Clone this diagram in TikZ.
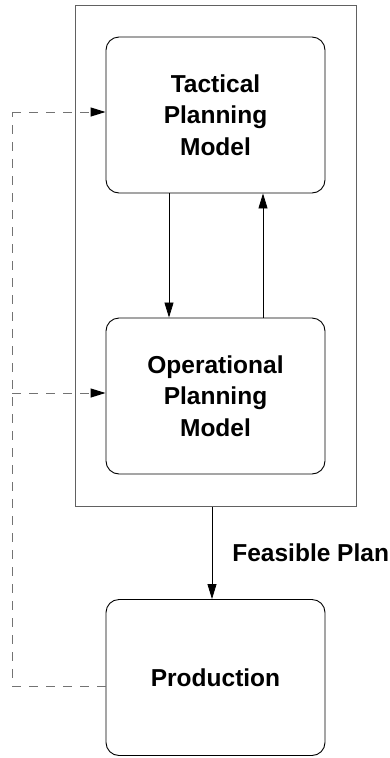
\documentclass[tikz,border=0pt]{standalone}
\usepackage{fontspec}
\setmainfont{Liberation Sans}
\usetikzlibrary{arrows.meta}
\begin{document}
\begin{tikzpicture}[x=1pt,y=-1pt,
  model/.style={draw=black,line width=0.9pt,rounded corners=13pt,
    minimum width=219pt,minimum height=156pt,align=center,inner sep=0pt,
    font=\fontsize{24.5pt}{31.5pt}\selectfont\bfseries},
  frame/.style={draw=black!62,line width=1pt,minimum width=281pt,minimum height=501pt,inner sep=0pt},
  flow/.style={line width=0.8pt,-{Triangle[length=15pt,width=9pt]}},
  feedline/.style={draw=black!55,line width=1pt,dash pattern=on 9pt off 8pt},
  feedback/.style={feedline,-{Triangle[length=15pt,width=9pt,color=black]}}]
\useasboundingbox (0,0) rectangle (390,758);

% outer frame holding both planning models
\node[frame] (outer) at (215.5,255.5) {};

% planning models and production
\node[model] (tac) at (215.5,115) {Tactical\\Planning\\Model};
\node[model] (op) at (215.5,396) {Operational\\Planning\\Model};
\node[model] (prod) at (215.5,677.5) {Production};

% exchange between the two models
\draw[flow] ([xshift=-46.5pt]tac.south) -- ([xshift=-46.5pt]op.north);
\draw[flow] ([xshift=47.5pt]op.north) -- ([xshift=47.5pt]tac.south);

% plan handed on to production
\draw[flow] ([xshift=-3.5pt]outer.south) -- ([xshift=-3.5pt]prod.north)
  node[midway,anchor=west,inner sep=0pt,xshift=20pt,
       font=\fontsize{24.5pt}{29pt}\selectfont\bfseries] (fp) {Feasible Plan};

% feedback from production to both models
\coordinate (fbbot) at (12,686);
\coordinate (fbtop) at (12,112);
\coordinate (fbmid) at (12,393);
\draw[feedline] (fbbot -| prod.west) -- (fbbot) -- (fbtop);
\draw[feedback] (fbtop) -- (fbtop -| tac.west);
\draw[feedback] (fbmid) -- (fbmid -| op.west);
\end{tikzpicture}
\end{document}
